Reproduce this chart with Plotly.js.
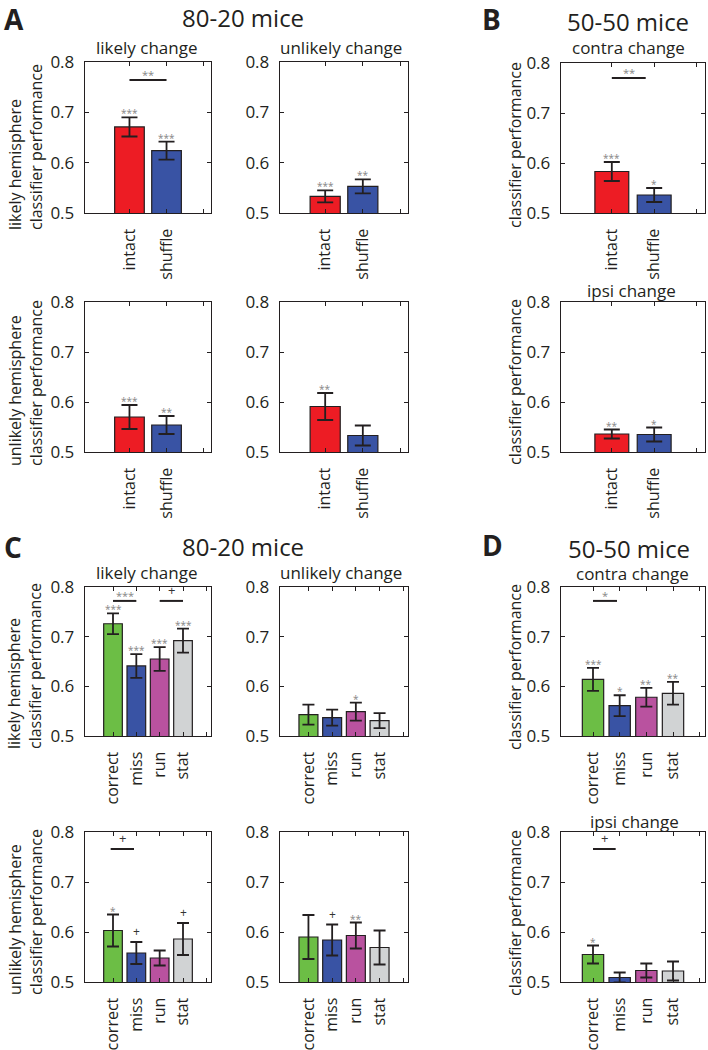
<!DOCTYPE html>
<html><head><meta charset="utf-8">
<script src="https://cdn.plot.ly/plotly-3.0.1.min.js"></script>
<style>body{margin:0;background:#fff}#chart{width:708px;height:1050px}</style>
</head><body><div id="chart"></div>
<script>
const W = 708, H = 1050;

// ---------- categories / colours ----------
const catsAB = ['intact', 'shuffle'];
const catsCD = ['correct', 'miss', 'run', 'stat'];
const colorsAB = ['#ED1C24', '#3953A4'];
const colorsCD = ['#6CBE45', '#3953A4', '#B9529F', '#D1D3D4'];

// ---------- Panel A: 80-20 mice ----------
const aLikelyHemiLikelyVal   = [0.671, 0.624];
const aLikelyHemiLikelyErr   = [0.019, 0.018];
const aLikelyHemiLikelyStars = ['***', '***'];
const aLikelyHemiLikelyBrk   = [[1, 2, 0.764, '**']];

const aLikelyHemiUnlikelyVal   = [0.533, 0.553];
const aLikelyHemiUnlikelyErr   = [0.012, 0.014];
const aLikelyHemiUnlikelyStars = ['***', '**'];

const aUnlikelyHemiLikelyVal   = [0.570, 0.554];
const aUnlikelyHemiLikelyErr   = [0.024, 0.018];
const aUnlikelyHemiLikelyStars = ['***', '**'];

const aUnlikelyHemiUnlikelyVal   = [0.591, 0.533];
const aUnlikelyHemiUnlikelyErr   = [0.027, 0.020];
const aUnlikelyHemiUnlikelyStars = ['**', ''];

// ---------- Panel B: 50-50 mice ----------
const bContraVal   = [0.583, 0.536];
const bContraErr   = [0.019, 0.014];
const bContraStars = ['***', '*'];
const bContraBrk   = [[1, 1.8, 0.770, '**']];

const bIpsiVal   = [0.536, 0.535];
const bIpsiErr   = [0.009, 0.014];
const bIpsiStars = ['**', '*'];

// ---------- Panel C: 80-20 mice ----------
const cLikelyHemiLikelyVal   = [0.726, 0.641, 0.655, 0.692];
const cLikelyHemiLikelyErr   = [0.021, 0.024, 0.024, 0.024];
const cLikelyHemiLikelyStars = ['***', '***', '***', '***'];
const cLikelyHemiLikelyBrk   = [[1, 2, 0.772, '***'], [3, 4, 0.772, '+']];

const cLikelyHemiUnlikelyVal   = [0.543, 0.537, 0.549, 0.531];
const cLikelyHemiUnlikelyErr   = [0.020, 0.016, 0.018, 0.015];
const cLikelyHemiUnlikelyStars = ['', '', '*', ''];

const cUnlikelyHemiLikelyVal   = [0.603, 0.558, 0.548, 0.586];
const cUnlikelyHemiLikelyErr   = [0.032, 0.022, 0.015, 0.032];
const cUnlikelyHemiLikelyStars = ['*', '+', '', '+'];
const cUnlikelyHemiLikelyBrk   = [[0.9, 1.9, 0.766, '+']];

const cUnlikelyHemiUnlikelyVal   = [0.590, 0.584, 0.593, 0.569];
const cUnlikelyHemiUnlikelyErr   = [0.044, 0.031, 0.026, 0.034];
const cUnlikelyHemiUnlikelyStars = ['', '+', '**', ''];

// ---------- Panel D: 50-50 mice ----------
const dContraVal   = [0.614, 0.561, 0.578, 0.586];
const dContraErr   = [0.023, 0.021, 0.019, 0.023];
const dContraStars = ['***', '*', '**', '**'];
const dContraBrk   = [[1, 1.9, 0.772, '*']];

const dIpsiVal   = [0.555, 0.509, 0.523, 0.522];
const dIpsiErr   = [0.018, 0.010, 0.014, 0.019];
const dIpsiStars = ['*', '', '', ''];
const dIpsiBrk   = [[1, 1.85, 0.766, '+']];

const yTicks = [0.5, 0.6, 0.7, 0.8];
const yTickText = ['0.5', '0.6', '0.7', '0.8'];

// ---------- layout of sub-panels (pixel boxes) ----------
const L = [85, 211], M = [280, 408], R = [561, 705];
const panels = [
  {v: aLikelyHemiLikelyVal, e: aLikelyHemiLikelyErr, s: aLikelyHemiLikelyStars, b: aLikelyHemiLikelyBrk, c: catsAB, col: colorsAB, bx: L, by: [62, 213]},
  {v: aLikelyHemiUnlikelyVal, e: aLikelyHemiUnlikelyErr, s: aLikelyHemiUnlikelyStars, b: [], c: catsAB, col: colorsAB, bx: M, by: [62, 213]},
  {v: bContraVal, e: bContraErr, s: bContraStars, b: bContraBrk, c: catsAB, col: colorsAB, bx: R, by: [63, 213]},
  {v: aUnlikelyHemiLikelyVal, e: aUnlikelyHemiLikelyErr, s: aUnlikelyHemiLikelyStars, b: [], c: catsAB, col: colorsAB, bx: L, by: [302, 452]},
  {v: aUnlikelyHemiUnlikelyVal, e: aUnlikelyHemiUnlikelyErr, s: aUnlikelyHemiUnlikelyStars, b: [], c: catsAB, col: colorsAB, bx: M, by: [302, 452]},
  {v: bIpsiVal, e: bIpsiErr, s: bIpsiStars, b: [], c: catsAB, col: colorsAB, bx: R, by: [302, 452]},
  {v: cLikelyHemiLikelyVal, e: cLikelyHemiLikelyErr, s: cLikelyHemiLikelyStars, b: cLikelyHemiLikelyBrk, c: catsCD, col: colorsCD, bx: L, by: [587, 736]},
  {v: cLikelyHemiUnlikelyVal, e: cLikelyHemiUnlikelyErr, s: cLikelyHemiUnlikelyStars, b: [], c: catsCD, col: colorsCD, bx: M, by: [587, 736]},
  {v: dContraVal, e: dContraErr, s: dContraStars, b: dContraBrk, c: catsCD, col: colorsCD, bx: R, by: [587, 736]},
  {v: cUnlikelyHemiLikelyVal, e: cUnlikelyHemiLikelyErr, s: cUnlikelyHemiLikelyStars, b: cUnlikelyHemiLikelyBrk, c: catsCD, col: colorsCD, bx: L, by: [832, 982]},
  {v: cUnlikelyHemiUnlikelyVal, e: cUnlikelyHemiUnlikelyErr, s: cUnlikelyHemiUnlikelyStars, b: [], c: catsCD, col: colorsCD, bx: M, by: [832, 982]},
  {v: dIpsiVal, e: dIpsiErr, s: dIpsiStars, b: dIpsiBrk, c: catsCD, col: colorsCD, bx: R, by: [832, 982]}
];

const FONT = 'Open Sans, Lato, sans-serif';
const INK = '#231F20';
const px = x => x / W;
const py = y => 1 - y / H;

const traces = [];
const layout = {
  width: W, height: H,
  margin: {l: 0, r: 0, t: 0, b: 0},
  paper_bgcolor: '#fff', plot_bgcolor: '#fff',
  font: {family: FONT, color: INK, size: 16},
  showlegend: false,
  annotations: [], shapes: [],
  bargap: 0
};

panels.forEach((p, i) => {
  const k = i === 0 ? '' : String(i + 1);
  const n = p.c.length;
  const xs = p.c.map((_, j) => j + 1);
  traces.push({
    type: 'bar', x: xs, y: p.v, width: 0.8,
    marker: {color: p.col, line: {color: INK, width: 1.2}},
    error_y: {type: 'data', array: p.e, visible: true, color: INK, thickness: 1.8, width: n === 2 ? 8 : 6},
    xaxis: 'x' + k, yaxis: 'y' + k, hoverinfo: 'skip', showlegend: false, cliponaxis: true
  });
  const axBase = {showline: true, linecolor: INK, linewidth: 1.3, mirror: 'ticks', ticks: 'inside', ticklen: 4,
                  tickcolor: INK, tickwidth: 1, showgrid: false, zeroline: false, fixedrange: true};
  layout['xaxis' + k] = Object.assign({}, axBase, {
    domain: [px(p.bx[0]), px(p.bx[1])], anchor: 'y' + k, range: [-0.2, n + 1.2],
    tickmode: 'array', tickvals: xs.concat([n + 1]), ticktext: p.c.concat(['']), tickangle: -90,
    tickfont: {size: 16, family: FONT, color: INK}, ticklabelstandoff: 8
  });
  layout['yaxis' + k] = Object.assign({}, axBase, {
    domain: [py(p.by[1]), py(p.by[0])], anchor: 'x' + k, range: [0.5, 0.8],
    tickmode: 'array', tickvals: yTicks, ticktext: yTickText, tickfont: {size: 17, family: FONT, color: INK},
    ticklabelstandoff: 6
  });
  // significance labels above bars
  p.s.forEach((t, j) => {
    if (!t) return;
    const plus = t === '+';
    layout.annotations.push({
      xref: 'x' + k, yref: 'y' + k, x: j + 1, y: p.v[j] + p.e[j], text: t, showarrow: false,
      xanchor: 'center', yanchor: 'bottom', yshift: plus ? 0 : -5,
      font: {size: plus ? 12 : 10, color: plus ? '#333' : '#858585', family: FONT}
    });
  });
  // brackets
  p.b.forEach(br => {
    layout.shapes.push({type: 'line', xref: 'x' + k, yref: 'y' + k, x0: br[0], x1: br[1], y0: br[2], y1: br[2],
                        line: {color: INK, width: 2}});
    const plus = br[3] === '+';
    layout.annotations.push({
      xref: 'x' + k, yref: 'y' + k, x: (br[0] + br[1]) / 2, y: br[2], text: br[3], showarrow: false,
      xanchor: 'center', yanchor: 'bottom', yshift: plus ? 0 : -4,
      font: {size: plus ? 13 : 11, color: plus ? '#333' : '#858585', family: FONT}
    });
  });
});

function txt(x, y, text, size, opts) {
  layout.annotations.push(Object.assign({
    xref: 'paper', yref: 'paper', x: px(x), y: py(y), text: text, showarrow: false,
    xanchor: 'center', yanchor: 'middle', borderpad: 0, font: {size: size, color: INK, family: FONT}
  }, opts || {}));
}

// panel letters and headers
txt(3, 19, '<b>A</b>', 28, {xanchor: 'left'});
txt(481, 19, '<b>B</b>', 28, {xanchor: 'left'});
txt(3, 547, '<b>C</b>', 28, {xanchor: 'left'});
txt(481, 545, '<b>D</b>', 28, {xanchor: 'left'});
txt(243, 18, '80-20 mice', 24);
txt(628, 22, '50-50 mice', 24);
txt(243, 546, '80-20 mice', 24);
txt(629, 548, '50-50 mice', 24);

// subplot titles
txt(147, 47, 'likely change', 17);
txt(341, 47, 'unlikely change', 17);
txt(628, 48, 'contra change', 17);
txt(631, 290, 'ipsi change', 17);
txt(147, 572, 'likely change', 17);
txt(341, 572, 'unlikely change', 17);
txt(632, 573, 'contra change', 17);
txt(634, 821, 'ipsi change', 17);

// y-axis titles (left-aligned lines, as in the original)
const yt = (x, y, text) => txt(x, y, text, 16, {textangle: -90, align: 'left'});
yt(25, 147, 'likely hemisphere<br>classifier performance');
yt(25, 383, 'unlikely hemisphere<br>classifier performance');
yt(25, 666, 'likely hemisphere<br>classifier performance');
yt(25, 912, 'unlikely hemisphere<br>classifier performance');
yt(515, 145, 'classifier performance');
yt(515, 382, 'classifier performance');
yt(515, 667, 'classifier performance');
yt(515, 913, 'classifier performance');

Plotly.newPlot('chart', traces, layout, {staticPlot: true, displayModeBar: false});
</script>
</body></html>
